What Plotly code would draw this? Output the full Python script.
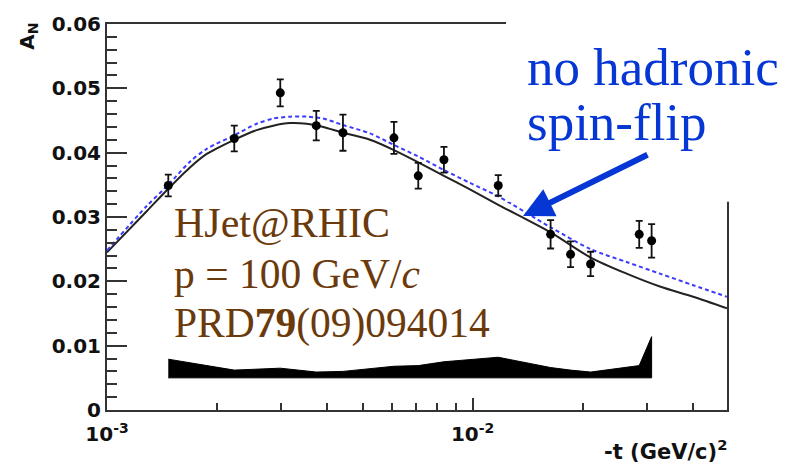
import plotly.graph_objects as go

# ---- data ----
t_data = [1.471e-3, 2.229e-3, 2.978e-3, 3.736e-3, 4.419e-3, 6.093e-3, 7.10e-3,
          8.347e-3, 1.175e-2, 1.634e-2, 1.853e-2, 2.102e-2, 2.855e-2, 3.087e-2]
an_data = [0.0349, 0.0422, 0.0493, 0.0442, 0.0431, 0.0423, 0.0364,
           0.0389, 0.0349, 0.0273, 0.0242, 0.0227, 0.0273, 0.0263]
an_err = [0.0017, 0.0020, 0.0021, 0.0023, 0.0028, 0.0025, 0.0020,
          0.0020, 0.0016, 0.0022, 0.0020, 0.0019, 0.0021, 0.0026]
sys_top = [0.0079, 0.0062, 0.0065, 0.0059, 0.0060, 0.0068, 0.0069,
           0.0075, 0.0082, 0.0066, 0.0062, 0.0059, 0.0069, 0.0114]
sys_base = 0.0050

t_curve = [1.000e-3, 1.284e-3, 1.471e-3, 1.686e-3, 1.874e-3, 2.229e-3, 2.567e-3,
           2.849e-3, 3.166e-3, 3.516e-3, 3.904e-3, 4.419e-3, 5.239e-3, 6.093e-3,
           7.10e-3, 8.347e-3, 9.83e-3, 1.175e-2, 1.634e-2, 2.102e-2, 2.637e-2,
           3.252e-2, 4.01e-2, 4.96e-2]
an_fit = [0.0245, 0.0309, 0.0344, 0.0377, 0.0398, 0.0420, 0.0435,
          0.0442, 0.0446, 0.0445, 0.0440, 0.0431, 0.0420, 0.0404,
          0.0385, 0.0364, 0.0343, 0.0319, 0.0276, 0.0237, 0.0212,
          0.0192, 0.0176, 0.0158]
an_noflip = [0.0248, 0.0317, 0.0350, 0.0386, 0.0406, 0.0427, 0.0445,
             0.0453, 0.0456, 0.0456, 0.0453, 0.0443, 0.0430, 0.0412,
             0.0394, 0.0373, 0.0353, 0.0332, 0.0284, 0.0250, 0.0230,
             0.0212, 0.0194, 0.0176]

x_major = [1e-3, 1e-2]
x_major_text = ["10<sup>-3</sup>", "10<sup>-2</sup>"]
x_minor = [2e-3, 3e-3, 4e-3, 5e-3, 6e-3, 7e-3, 8e-3, 9e-3, 2e-2, 3e-2, 4e-2]

W, H = 792, 467
L, R, T, B = 107, 65, 19, 57
PW, PH = W - L - R, H - T - B


def pxx(p):
    return (p - L) / PW


def pxy(p):
    return (H - B - p) / PH


fig = go.Figure()

# systematic band
fig.add_trace(go.Scatter(
    x=t_data + t_data[::-1],
    y=sys_top + [sys_base] * len(t_data),
    fill="toself", fillcolor="black", mode="lines",
    line=dict(color="black", width=1), hoverinfo="skip", showlegend=False))

# curves
fig.add_trace(go.Scatter(
    x=t_curve, y=an_fit, mode="lines",
    line=dict(color="#222222", width=2, shape="spline", smoothing=0.8),
    showlegend=False))
fig.add_trace(go.Scatter(
    x=t_curve, y=an_noflip, mode="lines",
    line=dict(color="#3b3bff", width=2, dash="4px,3px", shape="spline", smoothing=0.8),
    showlegend=False))

# data points
fig.add_trace(go.Scatter(
    x=t_data, y=an_data, mode="markers",
    marker=dict(color="black", size=9),
    error_y=dict(type="data", array=an_err, color="#111111", thickness=1.8, width=3.5),
    showlegend=False))

axis_font = dict(family="DejaVu Sans", size=20, color="#111111", weight="bold")

fig.update_xaxes(
    type="log", range=[-3, -1.3043],
    tickmode="array", tickvals=x_major, ticktext=x_major_text,
    ticks="inside", ticklen=12, tickwidth=2, tickcolor="#333333",
    minor=dict(tickmode="array", tickvals=x_minor, ticks="inside", ticklen=7,
               tickwidth=2, tickcolor="#333333"),
    showline=True, linewidth=2, linecolor="#333333", mirror=True,
    showgrid=False, zeroline=False, tickfont=axis_font, ticklabelstandoff=5)

fig.update_yaxes(
    range=[0, 0.06], tickmode="linear", tick0=0, dtick=0.01,
    ticks="inside", ticklen=20, tickwidth=2, tickcolor="#333333",
    minor=dict(dtick=0.002, ticks="inside", ticklen=10, tickwidth=2, tickcolor="#333333"),
    showline=True, linewidth=2, linecolor="#333333", mirror=True,
    showgrid=False, zeroline=False, tickfont=axis_font)

# white box behind the blue label (hides part of the frame)
fig.add_shape(type="rect", xref="paper", yref="paper",
              x0=pxx(506), x1=pxx(800), y0=pxy(199), y1=pxy(-5),
              fillcolor="white", line=dict(width=0), layer="above")

blue = "#0636d4"
brown = "#6b3a0c"
serif = "Liberation Serif"

anns = [
    dict(text="no hadronic", x=pxx(525), y=pxy(63), xanchor="left", yanchor="middle",
         font=dict(family=serif, size=53, color=blue)),
    dict(text="spin-flip", x=pxx(525), y=pxy(118), xanchor="left", yanchor="middle",
         font=dict(family=serif, size=53, color=blue)),
    dict(text="HJet@RHIC", x=pxx(172), y=pxy(221), xanchor="left", yanchor="middle",
         font=dict(family=serif, size=42, color=brown)),
    dict(text="p = 100 GeV/<i>c</i>", x=pxx(172), y=pxy(272), xanchor="left", yanchor="middle",
         font=dict(family=serif, size=41.5, color=brown)),
    dict(text="PRD<b>79</b>(09)094014", x=pxx(172), y=pxy(322), xanchor="left", yanchor="middle",
         font=dict(family=serif, size=41.5, color=brown)),
    dict(text="A<sub>N</sub>", x=pxx(28), y=pxy(32), xanchor="center", yanchor="middle",
         textangle=-90, font=dict(family="DejaVu Sans", size=20, color="#111111", weight="bold")),
    dict(text="-t (GeV/c)<sup>2</sup>", x=pxx(729), y=pxy(451), xanchor="right", yanchor="middle",
         font=dict(family="DejaVu Sans", size=21, color="#111111", weight="bold")),
]
for a in anns:
    fig.add_annotation(xref="paper", yref="paper", showarrow=False, **a)

# arrow
fig.add_annotation(xref="paper", yref="paper", x=pxx(523), y=pxy(213.5),
                   axref="pixel", ayref="pixel", ax=126, ay=-62,
                   text="", showarrow=True, arrowhead=2, arrowsize=1.0,
                   arrowwidth=6, arrowcolor=blue, standoff=0)

fig.update_layout(
    width=W, height=H, margin=dict(l=L, r=R, t=T, b=B),
    paper_bgcolor="white", plot_bgcolor="white", showlegend=False)

fig.write_html("out.html")
